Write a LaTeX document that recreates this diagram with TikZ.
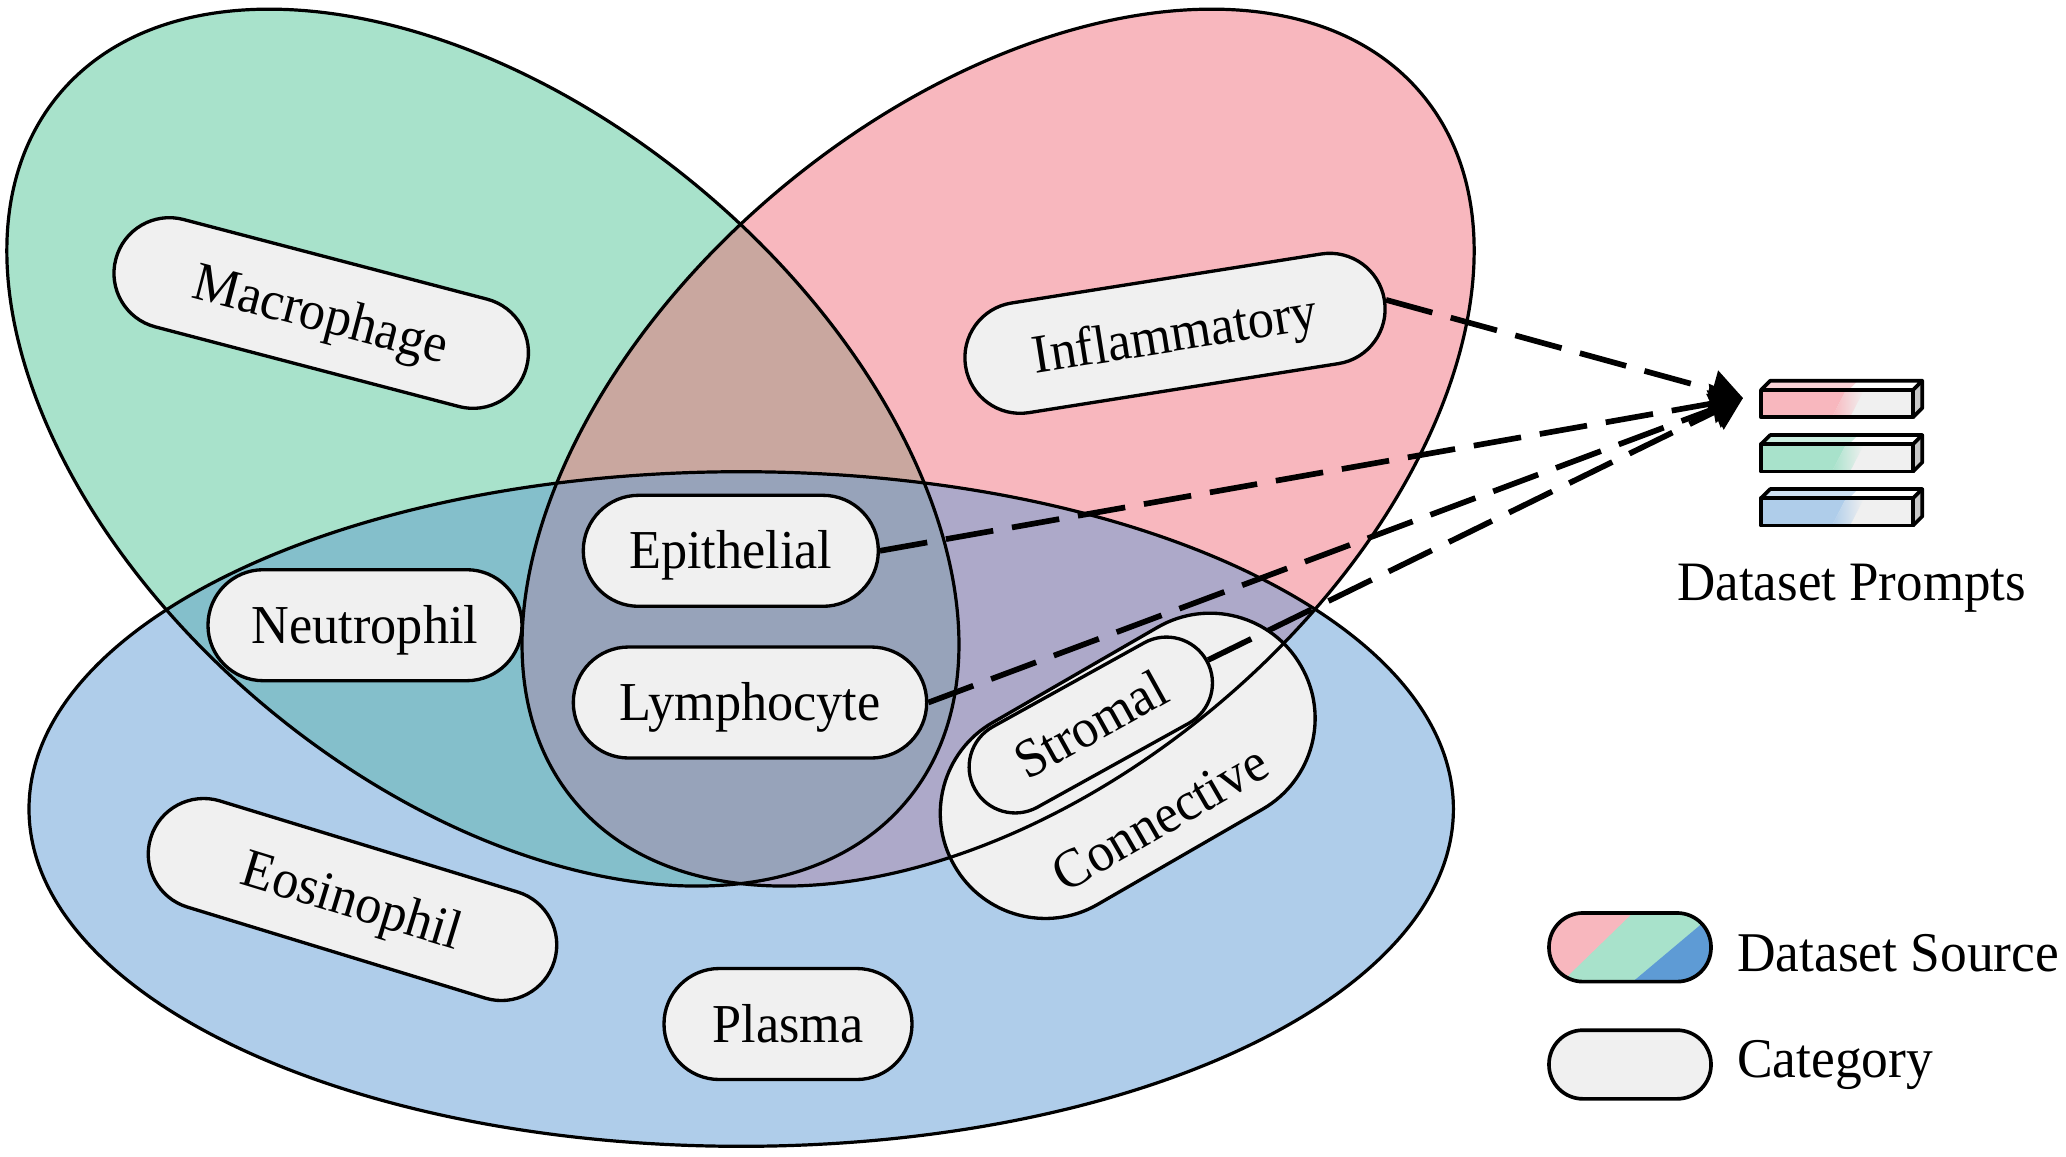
\documentclass[tikz,border=0pt]{standalone}
\usepackage{graphicx}
\usepackage{fontspec}
\setmainfont{Liberation Serif}
\usetikzlibrary{arrows.meta}
\definecolor{gC}{HTML}{A8E2CB}
\definecolor{pC}{HTML}{F8B7BE}
\definecolor{bC}{HTML}{AFCDEA}
\definecolor{gpC}{HTML}{C9A79F}
\definecolor{gbC}{HTML}{84BFCB}
\definecolor{pbC}{HTML}{ADA9C9}
\definecolor{tC}{HTML}{97A3BA}
\definecolor{pillC}{HTML}{F0F0F0}
\definecolor{lblue}{HTML}{5E9BD5}
\definecolor{sideC}{HTML}{C8C8C8}
\newcommand{\pillfont}{\fontsize{22.3pt}{26pt}\selectfont}
\newcommand{\promptfont}{\fontsize{22.6pt}{26pt}\selectfont}
\newcommand{\legfont}{\fontsize{22.8pt}{26pt}\selectfont}
\newcommand{\tallt}[1]{\scalebox{1}[1.05]{#1}}
\begin{document}
\begin{tikzpicture}[x=0.015cm, y=-0.015cm,
  pill/.style={draw=black, line width=0.05cm, fill=pillC, rounded corners=0.83cm,
     minimum height=1.665cm, inner sep=0pt, font=\pillfont, text height=15.4pt, text depth=0pt},
  ellout/.style={draw=black, line width=0.048cm},
  prompt/.style={line width=0.085cm, dash pattern=on 0.72cm off 0.285cm, -{Triangle[length=0.47cm,width=0.58cm]}},
  gE/.style={rotate around={-39.8:(482.9,447.6)}},
  pE/.style={rotate around={39.8:(998.1,447.6)}},
  barline/.style={draw=black, line width=0.055cm, line join=round},
  legtext/.style={font=\legfont, anchor=base west, inner sep=0pt},
  legpill/.style={draw=black, line width=0.055cm, rounded corners=0.51cm, minimum width=2.43cm, minimum height=1.03cm, inner sep=0pt},
]
\useasboundingbox[fill=white] (0,0) rectangle (2066,1156);
% ---- set fills
\fill[bC] (741.2,809) ellipse [x radius=712.2, y radius=337.3];
\fill[gC, gE] (482.9,447.6) ellipse [x radius=551.8, y radius=338.1];
\fill[pC, pE] (998.1,447.6) ellipse [x radius=551.8, y radius=338.1];
\begin{scope}
  \clip[pE] (998.1,447.6) ellipse [x radius=551.8, y radius=338.1];
  \fill[pbC] (741.2,809) ellipse [x radius=712.2, y radius=337.3];
\end{scope}
\begin{scope}
  \clip[gE] (482.9,447.6) ellipse [x radius=551.8, y radius=338.1];
  \fill[gpC, pE] (998.1,447.6) ellipse [x radius=551.8, y radius=338.1];
  \fill[gbC] (741.2,809) ellipse [x radius=712.2, y radius=337.3];
  \clip[pE] (998.1,447.6) ellipse [x radius=551.8, y radius=338.1];
  \fill[tC] (741.2,809) ellipse [x radius=712.2, y radius=337.3];
\end{scope}
% ---- category pills
\node[pill, minimum width=6.37cm, rotate=-14.7] (mac) at (321.2,313) {\tallt{Macrophage}};
\node[pill, minimum width=6.36cm, rotate=9] (infl) at (1175,333.3) {\tallt{Inflammatory}};
\node[pill, minimum width=6.33cm, rotate=-17] (eos) at (352.5,899.5) {\tallt{Eosinophil}};
\node[pill, minimum width=4.425cm] (epi) at (730.8,550.8) {\tallt{Epithelial}};
\node[pill, minimum width=5.30cm] (lym) at (750,702.5) {\tallt{Lymphocyte}};
\node[pill, minimum width=4.71cm] (neu) at (365,625.2) {\tallt{Neutrophil}};
\node[pill, minimum width=3.72cm] (pla) at (788,1024) {\tallt{Plasma}};
\node[pill, minimum width=6.0cm, minimum height=3.15cm, rounded corners=1.57cm, rotate=30] (con) at (1127.7,765.8) {};
\node[font=\pillfont, rotate=30, text height=15.4pt, text depth=0pt, inner sep=0pt] (contxt) at (1160,818) {\tallt{Connective}};
\node[pill, minimum width=3.975cm, minimum height=1.38cm, rounded corners=0.69cm, rotate=29] (str) at (1090.8,725) {\tallt{Stromal}};
% ---- set outlines
\draw[ellout] (741.2,809) ellipse [x radius=712.2, y radius=337.3];
\draw[ellout, gE] (482.9,447.6) ellipse [x radius=551.8, y radius=338.1];
\draw[ellout, pE] (998.1,447.6) ellipse [x radius=551.8, y radius=338.1];
% ---- prompt bars
\foreach \T/\C in {390/pC, 444.3/gC, 498.3/bC} {
  \fill[pillC] (1761,\T) rectangle (1913,\T+27.3);
  \fill[\C] (1761,\T) -- (1846,\T) -- (1832,\T+27.3) -- (1761,\T+27.3) -- cycle;
  \shade[left color=\C, right color=pillC] (1846,\T) -- (1864,\T) -- (1850,\T+27.3) -- (1832,\T+27.3) -- cycle;
  \fill[white] (1761,\T) -- (1770.3,\T-9.3) -- (1922.3,\T-9.3) -- (1913,\T) -- cycle;
  \fill[\C!60!white] (1761,\T) -- (1770.3,\T-9.3) -- (1858,\T-9.3) -- (1848.7,\T) -- cycle;
  \fill[sideC] (1913,\T) -- (1922.3,\T-9.3) -- (1922.3,\T+18) -- (1913,\T+27.3) -- cycle;
  \draw[barline] (1761,\T) rectangle (1913,\T+27.3);
  \draw[barline] (1761,\T) -- (1770.3,\T-9.3) -- (1922.3,\T-9.3) -- (1913,\T);
  \draw[barline] (1922.3,\T-9.3) -- (1922.3,\T+18) -- (1913,\T+27.3);
}
\node[font=\promptfont, anchor=base west, inner sep=0pt] (dp) at (1677,600) {\tallt{Dataset Prompts}};
% ---- dashed connectors
\coordinate (tip) at (1743,398);
\draw[prompt] (infl.east) -- (tip);
\draw[prompt] (epi.east) -- (tip);
\draw[prompt] (lym.east) -- (tip);
\draw[prompt] (str.east) -- (tip);
% ---- legend
\begin{scope}
  \clip[rounded corners=0.51cm] (1549,913) rectangle (1711,981.6);
  \fill[gC] (1540,905) rectangle (1720,990);
  \fill[pC] (1500,900) -- (1646,900) -- (1543,1000) -- (1500,1000) -- cycle;
  \fill[lblue] (1730,900) -- (1760,900) -- (1760,1000) -- (1611,1000) -- cycle;
\end{scope}
\node[legpill] (src) at (1630,947.3) {};
\node[legpill, fill=pillC] (cat) at (1630,1064.5) {};
\node[legtext] (srct) at (1736.7,971.7) {\tallt{Dataset Source}};
\node[legtext] (catt) at (1736.7,1077) {\tallt{Category}};
\end{tikzpicture}
\end{document}
